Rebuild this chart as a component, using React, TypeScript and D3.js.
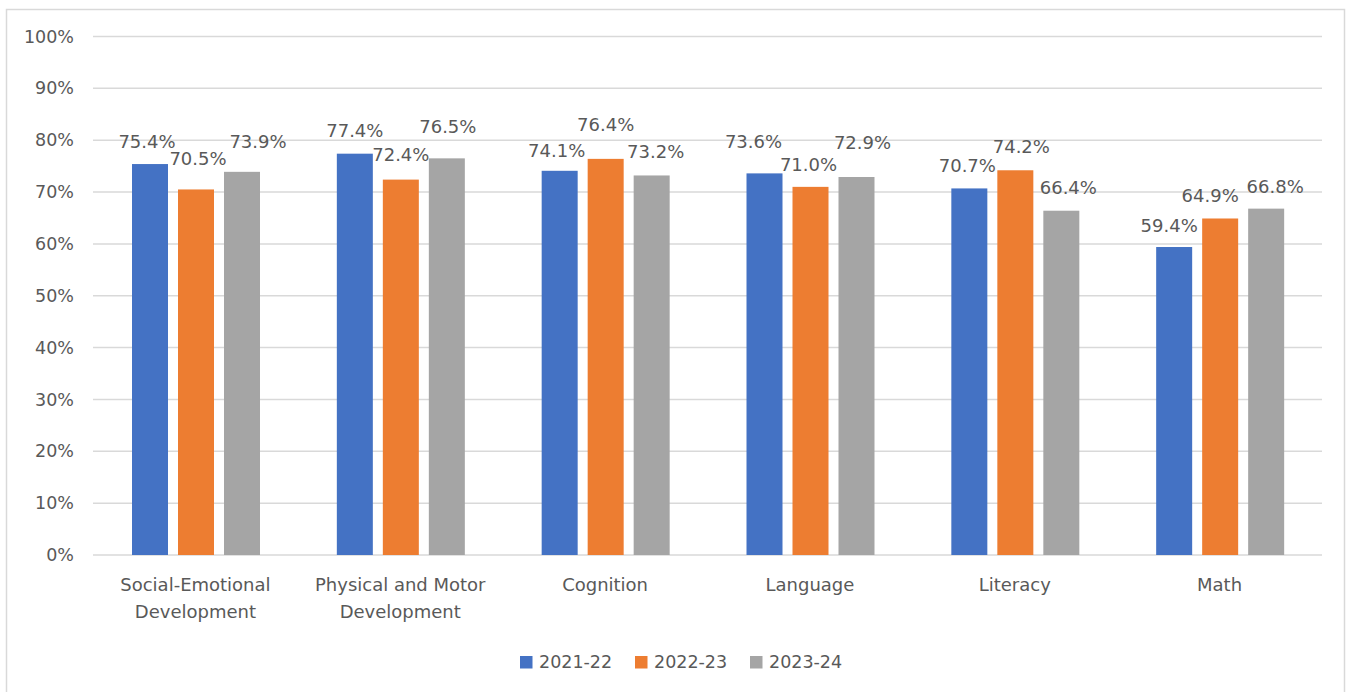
import React, { useEffect, useRef } from 'react';
import * as d3 from 'd3';

const categories = [
  ['Social-Emotional', 'Development'],
  ['Physical and Motor', 'Development'],
  ['Cognition'],
  ['Language'],
  ['Literacy'],
  ['Math'],
];
const seriesNames = ['2021-22', '2022-23', '2023-24'];
const values2122 = [75.4, 77.4, 74.1, 73.6, 70.7, 59.4];
const values2223 = [70.5, 72.4, 76.4, 71.0, 74.2, 64.9];
const values2324 = [73.9, 76.5, 73.2, 72.9, 66.4, 66.8];
const yTicks = [0, 10, 20, 30, 40, 50, 60, 70, 80, 90, 100];

const colors = ['#4472C4', '#ED7D31', '#A5A5A5'];
// hand-dragged data labels in the original: [dx, extra lift] per category / series
const labelNudge = [
  [[-3, 0], [2, 8], [16, 8]],
  [[0, 1], [0, 3], [1, 9]],
  [[-3, -2], [0, 12], [4, 1]],
  [[-11, 9], [-2, 0], [6, 12]],
  [[-2, 0], [6, 1], [7, 1]],
  [[-5, -1], [-10, 0], [9, 0]],
];

const W = 1348;
const H = 692;
const FONT = 'DejaVu Sans, sans-serif';
const TEXT = '#595959';

const App = () => {
  const ref = useRef<SVGSVGElement | null>(null);

  useEffect(() => {
    const svg = d3.select(ref.current);
    svg.selectAll('*').remove();

    const series = [values2122, values2223, values2324];
    const catKeys = categories.map(c => c.join(' '));

    const x = d3.scaleBand().domain(catKeys).range([93, 1322]);
    const xs = d3
      .scaleBand()
      .domain(seriesNames)
      .range([39, 167])
      .paddingInner(10 / 46);
    const y = d3.scaleLinear().domain([0, 100]).range([555, 36.5]);

    // chart border
    svg
      .append('rect')
      .attr('x', 6.5)
      .attr('y', 9.5)
      .attr('width', 1338)
      .attr('height', 700)
      .attr('fill', 'white')
      .attr('stroke', '#d9d9d9')
      .attr('stroke-width', 1.5);

    // gridlines + y labels
    const g = svg.append('g');
    g.selectAll('line.grid')
      .data(yTicks)
      .join('line')
      .attr('x1', 93)
      .attr('x2', 1322)
      .attr('y1', d => y(d))
      .attr('y2', d => y(d))
      .attr('stroke', '#d9d9d9')
      .attr('stroke-width', 1.5);

    g.selectAll('text.ytick')
      .data(yTicks)
      .join('text')
      .attr('x', 74)
      .attr('y', d => y(d))
      .attr('dy', '0.35em')
      .attr('text-anchor', 'end')
      .attr('font-family', FONT)
      .attr('font-size', 17.5)
      .attr('fill', TEXT)
      .text(d => `${d}%`);

    // bars
    series.forEach((vals, si) => {
      svg
        .append('g')
        .selectAll('rect')
        .data(vals)
        .join('rect')
        .attr('x', (d, i) => x(catKeys[i])! + xs(seriesNames[si])!)
        .attr('y', d => y(d))
        .attr('width', xs.bandwidth())
        .attr('height', d => y(0) - y(d))
        .attr('fill', colors[si]);
    });

    // data labels
    series.forEach((vals, si) => {
      svg
        .append('g')
        .selectAll('text')
        .data(vals)
        .join('text')
        .attr('x', (d, i) => x(catKeys[i])! + xs(seriesNames[si])! + xs.bandwidth() / 2 + labelNudge[i][si][0])
        .attr('y', (d, i) => y(d) - 16 - labelNudge[i][si][1])
        .attr('text-anchor', 'middle')
        .attr('font-family', FONT)
        .attr('font-size', 18)
        .attr('fill', TEXT)
        .text(d => `${d.toFixed(1)}%`);
    });

    // category labels
    const cats = svg
      .append('g')
      .selectAll('text')
      .data(categories)
      .join('text')
      .attr('x', (d, i) => x(catKeys[i])! + x.bandwidth() / 2)
      .attr('y', 591)
      .attr('text-anchor', 'middle')
      .attr('font-family', FONT)
      .attr('font-size', 18)
      .attr('fill', TEXT);
    cats
      .selectAll('tspan')
      .data(d => d)
      .join('tspan')
      .attr('x', function () {
        return (this.parentNode as SVGTextElement).getAttribute('x');
      })
      .attr('dy', (d, i) => (i === 0 ? 0 : 27))
      .text(d => d);

    // legend
    const legendX = [520, 635, 750];
    const legend = svg
      .append('g')
      .selectAll('g')
      .data(seriesNames)
      .join('g')
      .attr('transform', (d, i) => `translate(${legendX[i]},662)`);
    legend
      .append('rect')
      .attr('x', 0)
      .attr('y', -6)
      .attr('width', 12.5)
      .attr('height', 12.5)
      .attr('fill', (d, i) => colors[i]);
    legend
      .append('text')
      .attr('x', 19)
      .attr('y', 0)
      .attr('dy', '0.35em')
      .attr('font-family', FONT)
      .attr('font-size', 17.5)
      .attr('fill', TEXT)
      .text(d => d);

    return () => {
      svg.selectAll('*').remove();
    };
  }, []);

  return (
    <svg
      ref={ref}
      width={W}
      height={H}
      style={{ position: 'absolute', left: 0, top: 0, background: 'white' }}
    />
  );
};

export default App;
